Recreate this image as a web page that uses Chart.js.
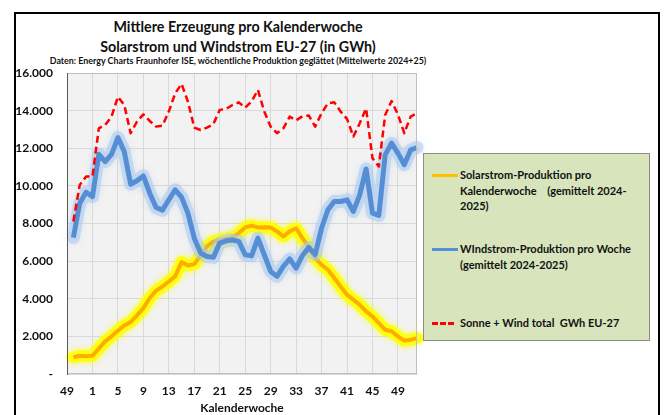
<!DOCTYPE html>
<html>
<head>
<meta charset="utf-8">
<script src="https://cdn.jsdelivr.net/npm/chart.js@4.4.1/dist/chart.umd.min.js"></script>
<style>
  body { margin: 0; background: #fff; font-family: Lato, "Open Sans", sans-serif; }
  #wrap { position: relative; width: 666px; height: 415px; overflow: hidden; }
  #frame { position: absolute; left: 14px; top: 12px; width: 642px; height: 420px; border: 2px solid #000; }
  canvas { position: absolute; left: 0; top: 0; }
  .ttl { position: absolute; left: 0; width: 476px; text-align: center; font-weight: bold; color: #111; white-space: nowrap; }
  #legend { position: absolute; left: 423px; top: 153px; width: 225px; height: 186px; background: #d7e4bc; border: 1px solid #8c8c8c; }
  .item { position: absolute; left: 8px; font-size: 11px; font-weight: bold; line-height: 15.5px; color: #111; }
  .item .sw { position: absolute; left: 0; width: 26px; }
  .item .tx { margin-left: 28px; width: 190px; }
</style>
</head>
<body>
<div id="wrap">
  <div id="frame"></div>
  <div class="ttl" style="top:18px;font-size:14.3px;">Mittlere Erzeugung pro Kalenderwoche</div>
  <div class="ttl" style="top:38px;font-size:14.3px;">Solarstrom und Windstrom EU-27 (in GWh)</div>
  <div class="ttl" style="top:55px;font-size:8.9px;">Daten: Energy Charts Fraunhofer ISE, wöchentliche Produktion geglättet (Mittelwerte 2024+25)</div>
  <canvas id="line-chart" width="666" height="415"></canvas>
  <div id="legend"></div>
</div>
<script>
// Kalenderwochen (Dez. Vorjahr + ganzes Jahr)
var weeks = [49,50,51,52,1,2,3,4,5,6,7,8,9,10,11,12,13,14,15,16,17,18,19,20,21,22,23,24,25,26,
  27,28,29,30,31,32,33,34,35,36,37,38,39,40,41,42,43,44,45,46,47,48,49,50,51,52];

var solar = [null,890,970,940,970,1350,1730,2000,2300,2580,2760,3120,3500,4040,4430,4650,4920,5190,
  5950,5770,5840,6300,6780,7040,7130,7190,7260,7490,7790,7890,7790,7800,7790,7580,7310,7580,7750,
  7220,6730,6160,5800,5540,5100,4650,4210,3950,3680,3330,3060,2710,2350,2270,2000,1770,1820,1910];

var wind = [null,7250,9080,9660,9430,11680,11290,11680,12570,11820,10090,10270,10530,9610,8850,8710,
  9260,9790,9400,8550,7220,6430,6250,6200,6960,7080,7120,7050,6340,6280,7220,6340,5450,5190,5720,
  6120,5630,6300,6730,6340,7750,8730,9170,9170,9260,8640,9520,10900,8550,8430,11650,12270,11740,
  11120,11910,12040];

var total = [null,8110,10050,10500,10500,13060,13240,13680,14740,14300,12800,13420,13800,13450,13150,
  13200,13950,14920,15420,14480,13100,12970,13100,13280,14040,14090,14300,14440,14160,14480,15100,
  13950,13150,12800,13060,13680,13480,13700,13740,13150,13860,14390,14440,13950,13560,12620,13330,
  14120,11470,11030,13770,14510,13800,12800,13680,13860];

var seriesNames = [
  "Solarstrom-Produktion pro Kalenderwoche\u00a0\u00a0\u00a0\u00a0(gemittelt 2024-2025)",
  "WIndstrom-Produktion pro Woche (gemittelt 2024-2025)",
  "Sonne + Wind total\u00a0\u00a0GWh EU-27"
];

function fmt(v) {
  if (v === 0) return '-';
  return String(v).replace(/\B(?=(\d{3})+(?!\d))/g, '.');
}

// grauer Plot-Hintergrund
var plotBg = {
  id: 'plotBg',
  beforeDraw: function(chart) {
    var a = chart.chartArea, ctx = chart.ctx;
    ctx.save();
    ctx.fillStyle = '#f2f2f2';
    ctx.fillRect(a.left, a.top, a.right - a.left, a.bottom - a.top);
    ctx.restore();
  },
  afterDraw: function(chart) {
    var a = chart.chartArea, ctx = chart.ctx;
    ctx.save();
    ctx.strokeStyle = '#bfbfbf';
    ctx.lineWidth = 1;
    ctx.strokeRect(a.left + 0.5, a.top + 0.5, a.right - a.left - 1, a.bottom - a.top - 1);
    ctx.strokeStyle = '#595959';
    ctx.beginPath();
    ctx.moveTo(a.left + 0.5, a.top);
    ctx.lineTo(a.left + 0.5, a.bottom);
    ctx.stroke();
    ctx.restore();
  }
};

// Leuchteffekt unter den Linien
var glow = {
  id: 'glow',
  beforeDatasetDraw: function(chart, args) {
    var ds = chart.data.datasets[args.index];
    if (!ds.glow) return;
    var pts = args.meta.data, ctx = chart.ctx, started = false;
    ctx.save();
    ctx.beginPath();
    for (var i = 0; i < pts.length; i++) {
      if (ds.data[i] == null) continue;
      if (!started) { ctx.moveTo(pts[i].x, pts[i].y); started = true; }
      else ctx.lineTo(pts[i].x, pts[i].y);
    }
    ctx.lineJoin = 'round';
    ctx.lineCap = 'round';
    ctx.strokeStyle = ds.glow;
    ctx.shadowColor = ds.glow;
    ctx.shadowBlur = 6;
    ctx.lineWidth = ds.glowWidth;
    ctx.stroke();
    ctx.restore();
  }
};

new Chart(document.getElementById("line-chart"), {
  type: 'line',
  data: {
    labels: weeks,
    datasets: [{
      data: solar,
      label: seriesNames[0],
      borderColor: "#ffac00",
      borderWidth: 4,
      glow: "rgba(255,255,0,0.85)",
      glowWidth: 12,
      order: 3
    }, {
      data: wind,
      label: seriesNames[1],
      borderColor: "#558ed5",
      borderWidth: 5,
      glow: "rgba(170,200,238,0.55)",
      glowWidth: 13,
      order: 2
    }, {
      data: total,
      label: seriesNames[2],
      borderColor: "#ff0000",
      borderWidth: 2.5,
      borderDash: [7, 4],
      order: 1
    }]
  },
  options: {
    responsive: false,
    animation: false,
    datasets: {
      line: {
        fill: false,
        tension: 0,
        pointRadius: 0,
        spanGaps: false,
        borderJoinStyle: 'round',
        borderCapStyle: 'butt'
      }
    },
    layout: { padding: { left: 0, right: 249, top: 73, bottom: 0 } },
    plugins: {
      legend: { display: false },
      title: { display: false },
      tooltip: { enabled: false }
    },
    scales: {
      x: {
        offset: false,
        afterFit: function(s) { s.height = 41; },
        grid: { color: '#d9d9d9', drawTicks: false },
        border: { color: '#d9d9d9' },
        ticks: {
          autoSkip: false,
          maxRotation: 0,
          padding: 10,
          color: '#111',
          font: { family: 'Lato', size: 12, weight: 'bold' },
          callback: function(v, i) { return i % 4 === 0 ? String(weeks[i]) : null; }
        },
        title: {
          display: true,
          text: 'Kalenderwoche',
          color: '#111',
          padding: { top: 0, bottom: 0 },
          font: { family: 'Lato', size: 12, weight: 'bold' }
        }
      },
      y: {
        min: 0,
        max: 16000,
        afterFit: function(s) { s.width = 67; },
        grid: { color: '#d9d9d9', drawTicks: false },
        border: { color: '#595959' },
        ticks: {
          stepSize: 2000,
          padding: 14,
          color: '#111',
          font: { family: 'Lato', size: 12, weight: 'bold' },
          callback: function(v) { return fmt(v); }
        }
      }
    }
  },
  plugins: [plotBg, glow]
});

// Legende im grünen Kasten
var legendPos = [
  { top: 13, sw: 'border-top:3px solid #ffc000;top:7px;' },
  { top: 87, sw: 'border-top:3px solid #558ed5;top:7px;' },
  { top: 161, sw: 'border-top:3px dashed #ff0000;top:7px;width:22px;' }
];
var lg = document.getElementById('legend');
seriesNames.forEach(function(n, i) {
  var d = document.createElement('div');
  d.className = 'item';
  d.style.top = legendPos[i].top + 'px';
  d.innerHTML = '<div class="sw" style="' + legendPos[i].sw + '"></div><div class="tx">' + n + '</div>';
  lg.appendChild(d);
});
</script>
</body>
</html>
